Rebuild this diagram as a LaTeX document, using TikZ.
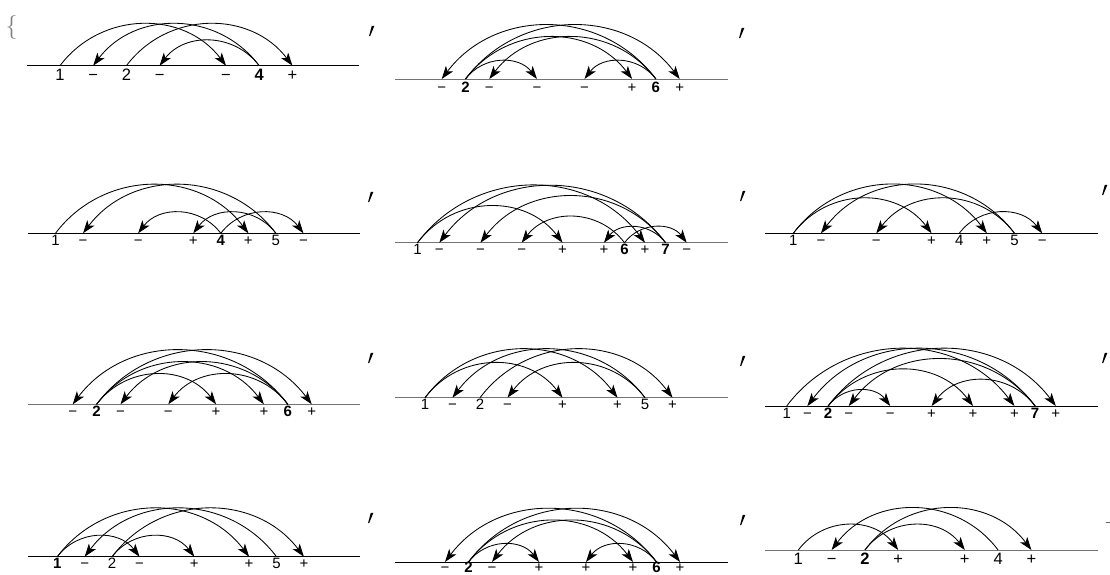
\documentclass[tikz,border=0pt]{standalone}
\usepackage{fontspec}
\setmainfont{Liberation Sans}
\newfontfamily\lmfont{Latin Modern Roman}
\usetikzlibrary{arrows.meta}
\tikzset{
  lab/.style={anchor=base,inner sep=0pt},
  txt/.style={lab,font=\fontsize{15}{17}\selectfont},
  txtb/.style={lab,font=\fontsize{15}{17}\selectfont\bfseries},
  bigtxt/.style={lab,font=\fontsize{16.5}{19}\selectfont},
  bigtxtb/.style={lab,font=\fontsize{16.5}{19}\selectfont\bfseries},
  axisblack/.style={draw=black,line width=0.8pt},
  axisgray/.style={draw=black!55,line width=0.9pt},
  arc/.style={draw=black,line width=0.85pt,-{Stealth[length=13pt,width=9pt,inset=3.5pt]}},
  rt/.style={bend left=53,looseness=1.07},
  lt/.style={bend right=53,looseness=1.07},
  tickmark/.pic={\fill (0.8,5.2) -- (3.4,5.2) -- (-0.9,-5.2) -- (-2.0,-5.2) -- cycle;}
}
\begin{document}
\begin{tikzpicture}[x=1pt,y=1pt]
\useasboundingbox (0,0) rectangle (1110,575);
% opening brace
\node[inner sep=0pt,text=black!50,font=\lmfont\fontsize{24}{24}\selectfont] (brace) at (11.5,547) {\{};
% separators
\pic at (371,544) {tickmark};
\pic at (741,542) {tickmark};
\pic at (370,378) {tickmark};
\pic at (742,379) {tickmark};
\pic at (1104,385) {tickmark};
\pic at (370,217) {tickmark};
\pic at (742,214) {tickmark};
\pic at (1104,217) {tickmark};
\pic at (370,57) {tickmark};
\pic at (742,55) {tickmark};
\draw[black!60,line width=1pt] (1105.5,52) -- (1110,52);

% ---------- Panel A ----------
\begin{scope}[shift={(0,509.3)}]
\coordinate (aL) at (27,0); \coordinate (aR) at (359,0);
\draw[axisblack] (aL) -- (aR);
\coordinate (a0) at (60,0);    \node[bigtxt]  (la0) at (60,-15) {1};
\coordinate (a1) at (93.2,0);  \node[bigtxt]  (la1) at (93.2,-15) {−};
\coordinate (a2) at (126.4,0); \node[bigtxt]  (la2) at (126.4,-15) {2};
\coordinate (a3) at (159.6,0); \node[bigtxt]  (la3) at (159.6,-15) {−};
\coordinate (a5) at (226,0);   \node[bigtxt]  (la5) at (226,-15) {−};
\coordinate (a6) at (259.2,0); \node[bigtxtb] (la6) at (259.2,-15) {4};
\coordinate (a7) at (292.4,0); \node[bigtxt]  (la7) at (292.4,-15) {+};
\draw[arc] (a0) to[rt] (a5);
\draw[arc] (a2) to[rt] (a7);
\draw[arc] (a6) to[lt] (a1);
\draw[arc] (a6) to[lt] (a3);
\end{scope}

% ---------- Panel B ----------
\begin{scope}[shift={(0,496)}]
\coordinate (bL) at (395,0); \coordinate (bR) at (727.7,0);
\draw[axisgray] (bL) -- (bR);
\coordinate (b0) at (441.7,0);  \node[txt]  (lb0) at (441.7,-14) {−};
\coordinate (b1) at (465.5,0);  \node[txtb] (lb1) at (465.5,-14) {2};
\coordinate (b2) at (489.3,0);  \node[txt]  (lb2) at (489.3,-14) {−};
\coordinate (b4) at (536.9,0);  \node[txt]  (lb4) at (536.9,-14) {−};
\coordinate (b6) at (584.5,0);  \node[txt]  (lb6) at (584.5,-14) {−};
\coordinate (b8) at (632.1,0);  \node[txt]  (lb8) at (632.1,-14) {+};
\coordinate (b9) at (655.9,0);  \node[txtb] (lb9) at (655.9,-14) {6};
\coordinate (b10) at (679.7,0); \node[txt]  (lb10) at (679.7,-14) {+};
\draw[arc] (b1) to[rt] (b4);
\draw[arc] (b1) to[rt] (b8);
\draw[arc] (b1) to[rt] (b10);
\draw[arc] (b9) to[lt] (b0);
\draw[arc] (b9) to[lt] (b2);
\draw[arc] (b9) to[lt] (b6);
\end{scope}

% ---------- Panel C ----------
\begin{scope}[shift={(0,341.7)}]
\coordinate (cL) at (28,0); \coordinate (cR) at (360,0);
\draw[axisblack] (cL) -- (cR);
\coordinate (c0) at (55.5,0);   \node[txt]  (lc0) at (55.5,-12.7) {1};
\coordinate (c1) at (83.05,0);  \node[txt]  (lc1) at (83.05,-12.7) {−};
\coordinate (c3) at (138.15,0); \node[txt]  (lc3) at (138.15,-12.7) {−};
\coordinate (c5) at (193.25,0); \node[txt]  (lc5) at (193.25,-12.7) {+};
\coordinate (c6) at (220.8,0);  \node[txtb] (lc6) at (220.8,-12.7) {4};
\coordinate (c7) at (248.35,0); \node[txt]  (lc7) at (248.35,-12.7) {+};
\coordinate (c8) at (275.9,0);  \node[txt]  (lc8) at (275.9,-12.7) {5};
\coordinate (c9) at (303.45,0); \node[txt]  (lc9) at (303.45,-12.7) {−};
\draw[arc] (c0) to[rt] (c7);
\draw[arc] (c6) to[rt] (c9);
\draw[arc] (c8) to[lt] (c1);
\draw[arc] (c6) to[lt] (c3);
\draw[arc] (c8) to[lt] (c5);
\end{scope}

% ---------- Panel D ----------
\begin{scope}[shift={(0,332.3)}]
\coordinate (dL) at (395,0); \coordinate (dR) at (728.3,0);
\draw[axisgray] (dL) -- (dR);
\coordinate (d0) at (417.5,0);  \node[txt]  (ld0) at (417.5,-12.3) {1};
\coordinate (d1) at (439.3,0);  \node[txt]  (ld1) at (439.3,-12.3) {−};
\coordinate (d3) at (480.5,0);  \node[txt]  (ld3) at (480.5,-12.3) {−};
\coordinate (d5) at (521.7,0);  \node[txt]  (ld5) at (521.7,-12.3) {−};
\coordinate (d7) at (562.5,0);  \node[txt]  (ld7) at (562.5,-12.3) {+};
\coordinate (d9) at (604,0);    \node[txt]  (ld9) at (604,-12.3) {+};
\coordinate (d10) at (624.5,0); \node[txtb] (ld10) at (624.5,-12.3) {6};
\coordinate (d11) at (645,0);   \node[txt]  (ld11) at (645,-12.3) {+};
\coordinate (d12) at (665.5,0); \node[txtb] (ld12) at (665.5,-12.3) {7};
\coordinate (d13) at (686.7,0); \node[txt]  (ld13) at (686.7,-12.3) {−};
\draw[arc] (d0) to[rt] (d7);
\draw[arc] (d0) to[rt] (d11);
\draw[arc] (d10) to[rt] (d13);
\draw[arc] (d10) to[lt] (d5);
\draw[arc] (d12) to[lt] (d1);
\draw[arc] (d12) to[lt] (d3);
\draw[arc] (d12) to[lt] (d9);
\end{scope}

% ---------- Panel E ----------
\begin{scope}[shift={(0,341.7)}]
\coordinate (eL) at (765,0); \coordinate (eR) at (1098.3,0);
\draw[axisblack] (eL) -- (eR);
\coordinate (e0) at (793.3,0);   \node[txt] (le0) at (793.3,-12.7) {1};
\coordinate (e1) at (820.95,0);  \node[txt] (le1) at (820.95,-12.7) {−};
\coordinate (e3) at (876.25,0);  \node[txt] (le3) at (876.25,-12.7) {−};
\coordinate (e5) at (931.55,0);  \node[txt] (le5) at (931.55,-12.7) {+};
\coordinate (e6) at (959.2,0);   \node[txt] (le6) at (959.2,-12.7) {4};
\coordinate (e7) at (986.85,0);  \node[txt] (le7) at (986.85,-12.7) {+};
\coordinate (e8) at (1014.5,0);  \node[txt] (le8) at (1014.5,-12.7) {5};
\coordinate (e9) at (1042.15,0); \node[txt] (le9) at (1042.15,-12.7) {−};
\draw[arc] (e0) to[rt] (e5);
\draw[arc] (e0) to[rt] (e7);
\draw[arc] (e6) to[rt] (e9);
\draw[arc] (e8) to[lt] (e1);
\draw[arc] (e8) to[lt] (e3);
\end{scope}

% ---------- Panel F ----------
\begin{scope}[shift={(0,170.7)}]
\coordinate (fL) at (28,0); \coordinate (fR) at (360,0);
\draw[axisgray] (fL) -- (fR);
\coordinate (f0) at (72.7,0);   \node[txt]  (lf0) at (72.7,-12.3) {−};
\coordinate (f1) at (96.6,0);   \node[txtb] (lf1) at (96.6,-12.3) {2};
\coordinate (f2) at (120.5,0);  \node[txt]  (lf2) at (120.5,-12.3) {−};
\coordinate (f4) at (168.3,0);  \node[txt]  (lf4) at (168.3,-12.3) {−};
\coordinate (f6) at (216.1,0);  \node[txt]  (lf6) at (216.1,-12.3) {+};
\coordinate (f8) at (263.9,0);  \node[txt]  (lf8) at (263.9,-12.3) {+};
\coordinate (f9) at (287.8,0);  \node[txtb] (lf9) at (287.8,-12.3) {6};
\coordinate (f10) at (311.7,0); \node[txt]  (lf10) at (311.7,-12.3) {+};
\draw[arc] (f1) to[rt] (f6);
\draw[arc] (f1) to[rt] (f8);
\draw[arc] (f1) to[rt] (f10);
\draw[arc] (f9) to[lt] (f0);
\draw[arc] (f9) to[lt] (f2);
\draw[arc] (f9) to[lt] (f4);
\end{scope}

% ---------- Panel G ----------
\begin{scope}[shift={(0,177.3)}]
\coordinate (gL) at (395,0); \coordinate (gR) at (728.3,0);
\draw[axisgray] (gL) -- (gR);
\coordinate (g0) at (425,0);   \node[txt] (lg0) at (425,-12.3) {1};
\coordinate (g1) at (452.5,0); \node[txt] (lg1) at (452.5,-12.3) {−};
\coordinate (g2) at (480,0);   \node[txt] (lg2) at (480,-12.3) {2};
\coordinate (g3) at (507.5,0); \node[txt] (lg3) at (507.5,-12.3) {−};
\coordinate (g5) at (562.5,0); \node[txt] (lg5) at (562.5,-12.3) {+};
\coordinate (g7) at (617.5,0); \node[txt] (lg7) at (617.5,-12.3) {+};
\coordinate (g8) at (645,0);   \node[txt] (lg8) at (645,-12.3) {5};
\coordinate (g9) at (672.5,0); \node[txt] (lg9) at (672.5,-12.3) {+};
\draw[arc] (g0) to[rt] (g5);
\draw[arc] (g0) to[rt] (g7);
\draw[arc] (g2) to[rt] (g9);
\draw[arc] (g8) to[lt] (g1);
\draw[arc] (g8) to[lt] (g3);
\end{scope}

% ---------- Panel H ----------
\begin{scope}[shift={(0,169)}]
\coordinate (hL) at (765,0); \coordinate (hR) at (1098.3,0);
\draw[axisblack] (hL) -- (hR);
\coordinate (h0) at (786.7,0);   \node[txt]  (lh0) at (786.7,-12.3) {1};
\coordinate (h1) at (807.4,0);   \node[txt]  (lh1) at (807.4,-12.3) {−};
\coordinate (h2) at (828.1,0);   \node[txtb] (lh2) at (828.1,-12.3) {2};
\coordinate (h3) at (848.8,0);   \node[txt]  (lh3) at (848.8,-12.3) {−};
\coordinate (h5) at (890.2,0);   \node[txt]  (lh5) at (890.2,-12.3) {−};
\coordinate (h7) at (931.6,0);   \node[txt]  (lh7) at (931.6,-12.3) {+};
\coordinate (h9) at (973,0);     \node[txt]  (lh9) at (973,-12.3) {+};
\coordinate (h11) at (1014.4,0); \node[txt]  (lh11) at (1014.4,-12.3) {+};
\coordinate (h12) at (1035.1,0); \node[txtb] (lh12) at (1035.1,-12.3) {7};
\coordinate (h13) at (1055.8,0); \node[txt]  (lh13) at (1055.8,-12.3) {+};
\draw[arc] (h0) to[rt] (h11);
\draw[arc] (h2) to[rt] (h5);
\draw[arc] (h2) to[rt] (h9);
\draw[arc] (h2) to[rt] (h13);
\draw[arc] (h12) to[lt] (h1);
\draw[arc] (h12) to[lt] (h3);
\draw[arc] (h12) to[lt] (h7);
\end{scope}

% ---------- Panel I ----------
\begin{scope}[shift={(0,18.3)}]
\coordinate (iL) at (28,0); \coordinate (iR) at (360,0);
\draw[axisblack] (iL) -- (iR);
\coordinate (i0) at (57.3,0);  \node[txtb] (li0) at (57.3,-12.3) {1};
\coordinate (i1) at (84.7,0);  \node[txt]  (li1) at (84.7,-12.3) {−};
\coordinate (i2) at (112.1,0); \node[txt]  (li2) at (112.1,-12.3) {2};
\coordinate (i3) at (139.5,0); \node[txt]  (li3) at (139.5,-12.3) {−};
\coordinate (i5) at (194.3,0); \node[txt]  (li5) at (194.3,-12.3) {+};
\coordinate (i7) at (249.1,0); \node[txt]  (li7) at (249.1,-12.3) {+};
\coordinate (i8) at (276.5,0); \node[txt]  (li8) at (276.5,-12.3) {5};
\coordinate (i9) at (303.9,0); \node[txt]  (li9) at (303.9,-12.3) {+};
\draw[arc] (i0) to[rt] (i3);
\draw[arc] (i0) to[rt] (i7);
\draw[arc] (i2) to[rt] (i5);
\draw[arc] (i2) to[rt] (i9);
\draw[arc] (i8) to[lt] (i1);
\end{scope}

% ---------- Panel J ----------
\begin{scope}[shift={(0,13)}]
\coordinate (jL) at (395,0); \coordinate (jR) at (728.3,0);
\draw[axisblack] (jL) -- (jR);
\coordinate (j0) at (445,0);   \node[txt]  (lj0) at (445,-11) {−};
\coordinate (j1) at (468.5,0); \node[txtb] (lj1) at (468.5,-11) {2};
\coordinate (j2) at (492,0);   \node[txt]  (lj2) at (492,-11) {−};
\coordinate (j4) at (539,0);   \node[txt]  (lj4) at (539,-11) {+};
\coordinate (j6) at (586,0);   \node[txt]  (lj6) at (586,-11) {+};
\coordinate (j8) at (633,0);   \node[txt]  (lj8) at (633,-11) {+};
\coordinate (j9) at (656.5,0); \node[txtb] (lj9) at (656.5,-11) {6};
\coordinate (j10) at (680,0);  \node[txt]  (lj10) at (680,-11) {+};
\draw[arc] (j1) to[rt] (j4);
\draw[arc] (j1) to[rt] (j8);
\draw[arc] (j1) to[rt] (j10);
\draw[arc] (j9) to[lt] (j0);
\draw[arc] (j9) to[lt] (j2);
\draw[arc] (j9) to[lt] (j6);
\end{scope}

% ---------- Panel K ----------
\begin{scope}[shift={(0,25)}]
\coordinate (kL) at (765,0); \coordinate (kR) at (1098.3,0);
\draw[axisgray] (kL) -- (kR);
\coordinate (k0) at (798.3,0);  \node[bigtxt]  (lk0) at (798.3,-15) {1};
\coordinate (k1) at (831.6,0);  \node[bigtxt]  (lk1) at (831.6,-15) {−};
\coordinate (k2) at (864.9,0);  \node[bigtxtb] (lk2) at (864.9,-15) {2};
\coordinate (k3) at (898.2,0);  \node[bigtxt]  (lk3) at (898.2,-15) {+};
\coordinate (k5) at (964.8,0);  \node[bigtxt]  (lk5) at (964.8,-15) {+};
\coordinate (k6) at (998.1,0);  \node[bigtxt]  (lk6) at (998.1,-15) {4};
\coordinate (k7) at (1031.4,0); \node[bigtxt]  (lk7) at (1031.4,-15) {+};
\draw[arc] (k0) to[rt] (k3);
\draw[arc] (k2) to[rt] (k5);
\draw[arc] (k2) to[rt] (k7);
\draw[arc] (k6) to[lt] (k1);
\end{scope}
\end{tikzpicture}
\end{document}
